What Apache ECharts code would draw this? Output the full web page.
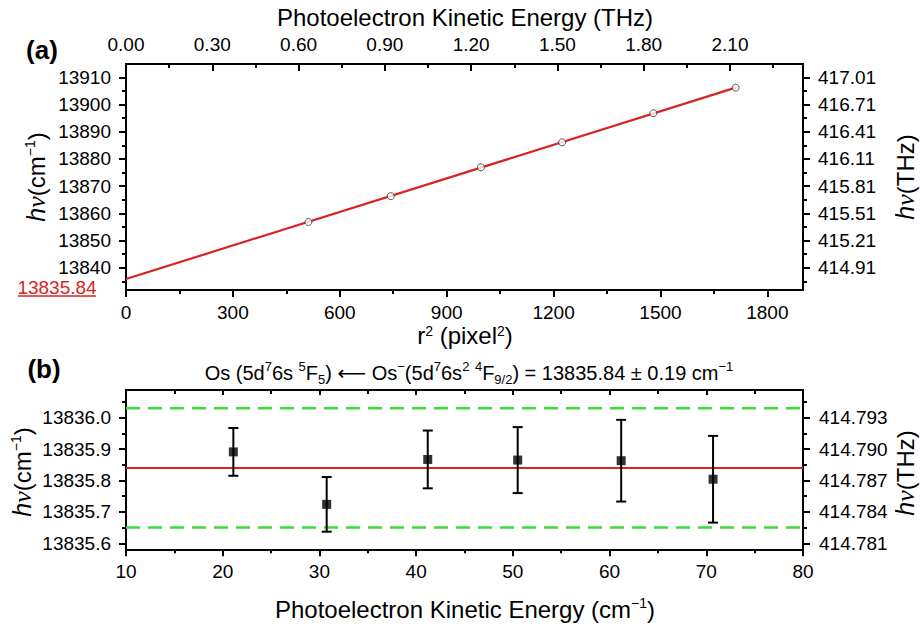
<!DOCTYPE html>
<html><head><meta charset="utf-8">
<script src="https://cdn.jsdelivr.net/npm/echarts@6/dist/echarts.min.js"></script>
<style>html,body{margin:0;padding:0;background:#fff}#c{width:920px;height:632px}</style>
</head><body><div id="c"></div>
<script>
// ---------- Panel (a) data ----------
const r2Values = [512, 743, 996, 1224, 1480, 1711];
const hvValuesA = [13856.8, 13866.3, 13876.9, 13886.1, 13896.8, 13906.2];
const fitIntercept = 13835.84;
const fitSlope = 0.04112;
const xTicksA = [0, 300, 600, 900, 1200, 1500, 1800];
const xMinorA = [150, 450, 750, 1050, 1350, 1650];
const topTicksA = [0, 0.3, 0.6, 0.9, 1.2, 1.5, 1.8, 2.1];
const topLabelsA = ['0.00', '0.30', '0.60', '0.90', '1.20', '1.50', '1.80', '2.10'];
const topMinorA = [0.15, 0.45, 0.75, 1.05, 1.35, 1.65, 1.95, 2.25];
const yTicksA = [13840, 13850, 13860, 13870, 13880, 13890, 13900, 13910];
const yLabelsA = ['13840', '13850', '13860', '13870', '13880', '13890', '13900', '13910'];
const yMinorA = [13835, 13845, 13855, 13865, 13875, 13885, 13895, 13905];
const thzLabelsA = ['414.91', '415.21', '415.51', '415.81', '416.11', '416.41', '416.71', '417.01'];

// ---------- Panel (b) data ----------
const keValues = [21.1, 30.75, 41.2, 50.5, 61.2, 70.7];
const hvValuesB = [13835.891, 13835.724, 13835.867, 13835.865, 13835.863, 13835.804];
const hvErrorsB = [0.076, 0.087, 0.092, 0.105, 0.130, 0.138];
const meanB = 13835.84;
const uncB = 0.19;
const xTicksB = [10, 20, 30, 40, 50, 60, 70, 80];
const xLabelsB = ['10', '20', '30', '40', '50', '60', '70', '80'];
const xMinorB = [15, 25, 35, 45, 55, 65, 75];
const yTicksB = [13835.6, 13835.7, 13835.8, 13835.9, 13836.0];
const yLabelsB = ['13835.6', '13835.7', '13835.8', '13835.9', '13836.0'];
const yMinorB = [13835.65, 13835.75, 13835.85, 13835.95, 13836.05];
const thzLabelsB = ['414.781', '414.784', '414.787', '414.790', '414.793'];

// ---------- styling ----------
const FONT = 'Liberation Sans';
const RED = '#d92323';
const GREEN = '#3bdc3b';

function axis(gridIndex, position, min, max, values, tickLen, inside, labels, margin) {
  return {
    type: 'value', gridIndex: gridIndex, position: position, min: min, max: max,
    axisLine: { show: true, onZero: false, lineStyle: { color: '#000', width: 2 } },
    axisTick: { show: true, inside: inside, length: tickLen, customValues: values,
                lineStyle: { color: '#000', width: 2 } },
    axisLabel: labels ? {
      show: true, customValues: values, margin: margin,
      fontFamily: FONT, fontSize: 19, lineHeight: 19, color: '#000',
      formatter: function (v) {
        let idx = -1;
        for (let i = 0; i < values.length; i++) if (Math.abs(values[i] - v) < 1e-6) idx = i;
        return idx >= 0 ? labels[idx] : '';
      }
    } : { show: false },
    splitLine: { show: false }, minorTick: { show: false }, minorSplitLine: { show: false }
  };
}

const aX = [0, 1900], aTop = [0, 2.354], aY = [13831.8, 13914.9];
const bX = [10, 80], bY = [13835.581, 13836.088];

const xAxes = [
  axis(0, 'bottom', aX[0], aX[1], xTicksA, 7, false, xTicksA.map(String), 13),
  axis(0, 'bottom', aX[0], aX[1], xMinorA, 4, false, null),
  axis(0, 'top', aTop[0], aTop[1], topTicksA, 7, true, topLabelsA, 10),
  axis(0, 'top', aTop[0], aTop[1], topMinorA, 4, true, null),
  axis(1, 'bottom', bX[0], bX[1], xTicksB, 7, false, xLabelsB, 13),
  axis(1, 'bottom', bX[0], bX[1], xMinorB, 4, false, null),
  axis(1, 'top', bX[0], bX[1], xTicksB, 5, true, null),
  axis(1, 'top', bX[0], bX[1], xMinorB, 4, true, null)
];
const yAxes = [
  axis(0, 'left', aY[0], aY[1], yTicksA, 7, false, yLabelsA, 15),
  axis(0, 'left', aY[0], aY[1], yMinorA, 4, false, null),
  axis(0, 'right', aY[0], aY[1], yTicksA, 7, false, thzLabelsA, 15),
  axis(0, 'right', aY[0], aY[1], yMinorA, 4, false, null),
  axis(1, 'left', bY[0], bY[1], yTicksB, 7, false, yLabelsB, 15),
  axis(1, 'left', bY[0], bY[1], yMinorB, 4, false, null),
  axis(1, 'right', bY[0], bY[1], yTicksB, 7, false, thzLabelsB, 16),
  axis(1, 'right', bY[0], bY[1], yMinorB, 4, false, null)
];

const lastR2 = r2Values[r2Values.length - 1];
const fitLine = [[0, fitIntercept], [lastR2, fitIntercept + fitSlope * lastR2]];
const xStartB = xTicksB[0], xEndB = xTicksB[xTicksB.length - 1];

const rich24 = {
  h: { fontFamily: FONT, fontStyle: 'italic', fontSize: 25, lineHeight: 26, fill: '#000', color: '#000' },
  nu: { fontFamily: 'Liberation Serif', fontStyle: 'italic', fontSize: 26, lineHeight: 26, fill: '#000', color: '#000' },
  n: { fontFamily: FONT, fontSize: 24, lineHeight: 26, fill: '#000', color: '#000' },
  sup: { fontFamily: FONT, fontSize: 14, lineHeight: 12, verticalAlign: 'top', fill: '#000', color: '#000' }
};
const rich24s = {
  n: { fontFamily: FONT, fontSize: 24, lineHeight: 22, fill: '#000', color: '#000' },
  sup: { fontFamily: FONT, fontSize: 14, lineHeight: 10, verticalAlign: 'top', fill: '#000', color: '#000' }
};
const rich20 = {
  n: { fontFamily: FONT, fontSize: 20, lineHeight: 26, fill: '#000', color: '#000' },
  arr: { fontFamily: 'DejaVu Sans', fontSize: 20, lineHeight: 26, fill: '#000', color: '#000' },
  sup: { fontFamily: FONT, fontSize: 13, lineHeight: 14, verticalAlign: 'top', fill: '#000', color: '#000' },
  sub: { fontFamily: FONT, fontSize: 13, lineHeight: 13, verticalAlign: 'bottom', fill: '#000', color: '#000' }
};

function txt(x, y, text, rich, rot, extra) {
  const st = Object.assign({ text: text, rich: rich, fontFamily: FONT, fontSize: 24, fill: '#000',
    align: 'center', verticalAlign: 'middle', textAlign: 'center', textVerticalAlign: 'middle' }, extra || {});
  return { type: 'text', x: x, y: y, rotation: rot || 0, style: st, z: 100 };
}

const graphics = [
  txt(42, 50, '(a)', null, 0, { fontWeight: 'bold', fontSize: 26 }),
  txt(44, 369, '(b)', null, 0, { fontWeight: 'bold', fontSize: 26 }),
  txt(465, 17, 'Photoelectron Kinetic Energy (THz)', null, 0, { fontSize: 24 }),
  txt(465, 335, '{n|r}{sup|2}{n| (pixel}{sup|2}{n|)}', rich24s, 0),
  txt(465, 609, '{n|Photoelectron Kinetic Energy (cm}{sup|\u22121}{n|)}', rich24, 0),
  txt(36, 177, '{h|h}{nu|\u03bd}{n|(cm}{sup|\u22121}{n|)}', rich24, Math.PI / 2),
  txt(905, 177, '{h|h}{nu|\u03bd}{n|(THz)}', rich24, Math.PI / 2),
  txt(22, 472, '{h|h}{nu|\u03bd}{n|(cm}{sup|\u22121}{n|)}', rich24, Math.PI / 2),
  txt(905, 473, '{h|h}{nu|\u03bd}{n|(THz)}', rich24, Math.PI / 2),
  txt(469, 373,
    '{n|Os (5d}{sup|7}{n|6s }{sup|5}{n|F}{sub|5}{n|) }{arr|\u27f5}{n| Os}{sup|\u2212}{n|(5d}{sup|7}{n|6s}{sup|2}{n| }{sup|4}{n|F}{sub|9/2}{n|) = 13835.84 \u00b1 0.19 cm}{sup|\u22121}',
    rich20, 0),
  txt(57, 287, '13835.84', null, 0, { fontSize: 19, fill: RED }),
  { type: 'line', shape: { x1: 18, y1: 296, x2: 96, y2: 296 }, style: { stroke: RED, lineWidth: 1.5 }, z: 100 }
];

const chart = echarts.init(document.getElementById('c'), null, { renderer: 'svg' });
chart.setOption({
  backgroundColor: '#fff',
  animation: false,
  grid: [
    { left: 126, right: 117, top: 64, height: 226, containLabel: false },
    { left: 126, right: 117, top: 390, height: 159.3, containLabel: false }
  ],
  xAxis: xAxes,
  yAxis: yAxes,
  graphic: graphics,
  series: [
    { type: 'line', xAxisIndex: 0, yAxisIndex: 0, data: fitLine, symbol: 'none',
      lineStyle: { color: RED, width: 2.2 }, z: 2 },
    { type: 'scatter', xAxisIndex: 0, yAxisIndex: 0,
      data: r2Values.map((r, i) => [r, hvValuesA[i]]),
      symbol: 'circle', symbolSize: 7,
      itemStyle: { color: '#fff', borderColor: '#333', borderWidth: 1 }, z: 3 },
    { type: 'line', xAxisIndex: 4, yAxisIndex: 4, data: [[xStartB, meanB], [xEndB, meanB]],
      symbol: 'none', lineStyle: { color: RED, width: 2 }, z: 2 },
    { type: 'line', xAxisIndex: 4, yAxisIndex: 4, data: [[xStartB, meanB + uncB], [xEndB, meanB + uncB]],
      symbol: 'none', lineStyle: { color: GREEN, width: 2.5, type: [14, 8] }, z: 2 },
    { type: 'line', xAxisIndex: 4, yAxisIndex: 4, data: [[xStartB, meanB - uncB], [xEndB, meanB - uncB]],
      symbol: 'none', lineStyle: { color: GREEN, width: 2.5, type: [14, 8] }, z: 2 },
    { type: 'custom', xAxisIndex: 4, yAxisIndex: 4,
      data: keValues.map((k, i) => [k, hvValuesB[i] - hvErrorsB[i], hvValuesB[i] + hvErrorsB[i]]),
      renderItem: function (params, api) {
        const lo = api.coord([api.value(0), api.value(1)]);
        const hi = api.coord([api.value(0), api.value(2)]);
        const w = 5;
        const st = { stroke: '#000', lineWidth: 2 };
        return { type: 'group', children: [
          { type: 'line', shape: { x1: lo[0], y1: lo[1], x2: hi[0], y2: hi[1] }, style: st },
          { type: 'line', shape: { x1: lo[0] - w, y1: lo[1], x2: lo[0] + w, y2: lo[1] }, style: st },
          { type: 'line', shape: { x1: hi[0] - w, y1: hi[1], x2: hi[0] + w, y2: hi[1] }, style: st }
        ] };
      }, z: 3 },
    { type: 'scatter', xAxisIndex: 4, yAxisIndex: 4,
      data: keValues.map((k, i) => [k, hvValuesB[i]]),
      symbol: 'rect', symbolSize: 9, itemStyle: { color: '#000' }, z: 4 }
  ]
});
</script>
</body></html>
